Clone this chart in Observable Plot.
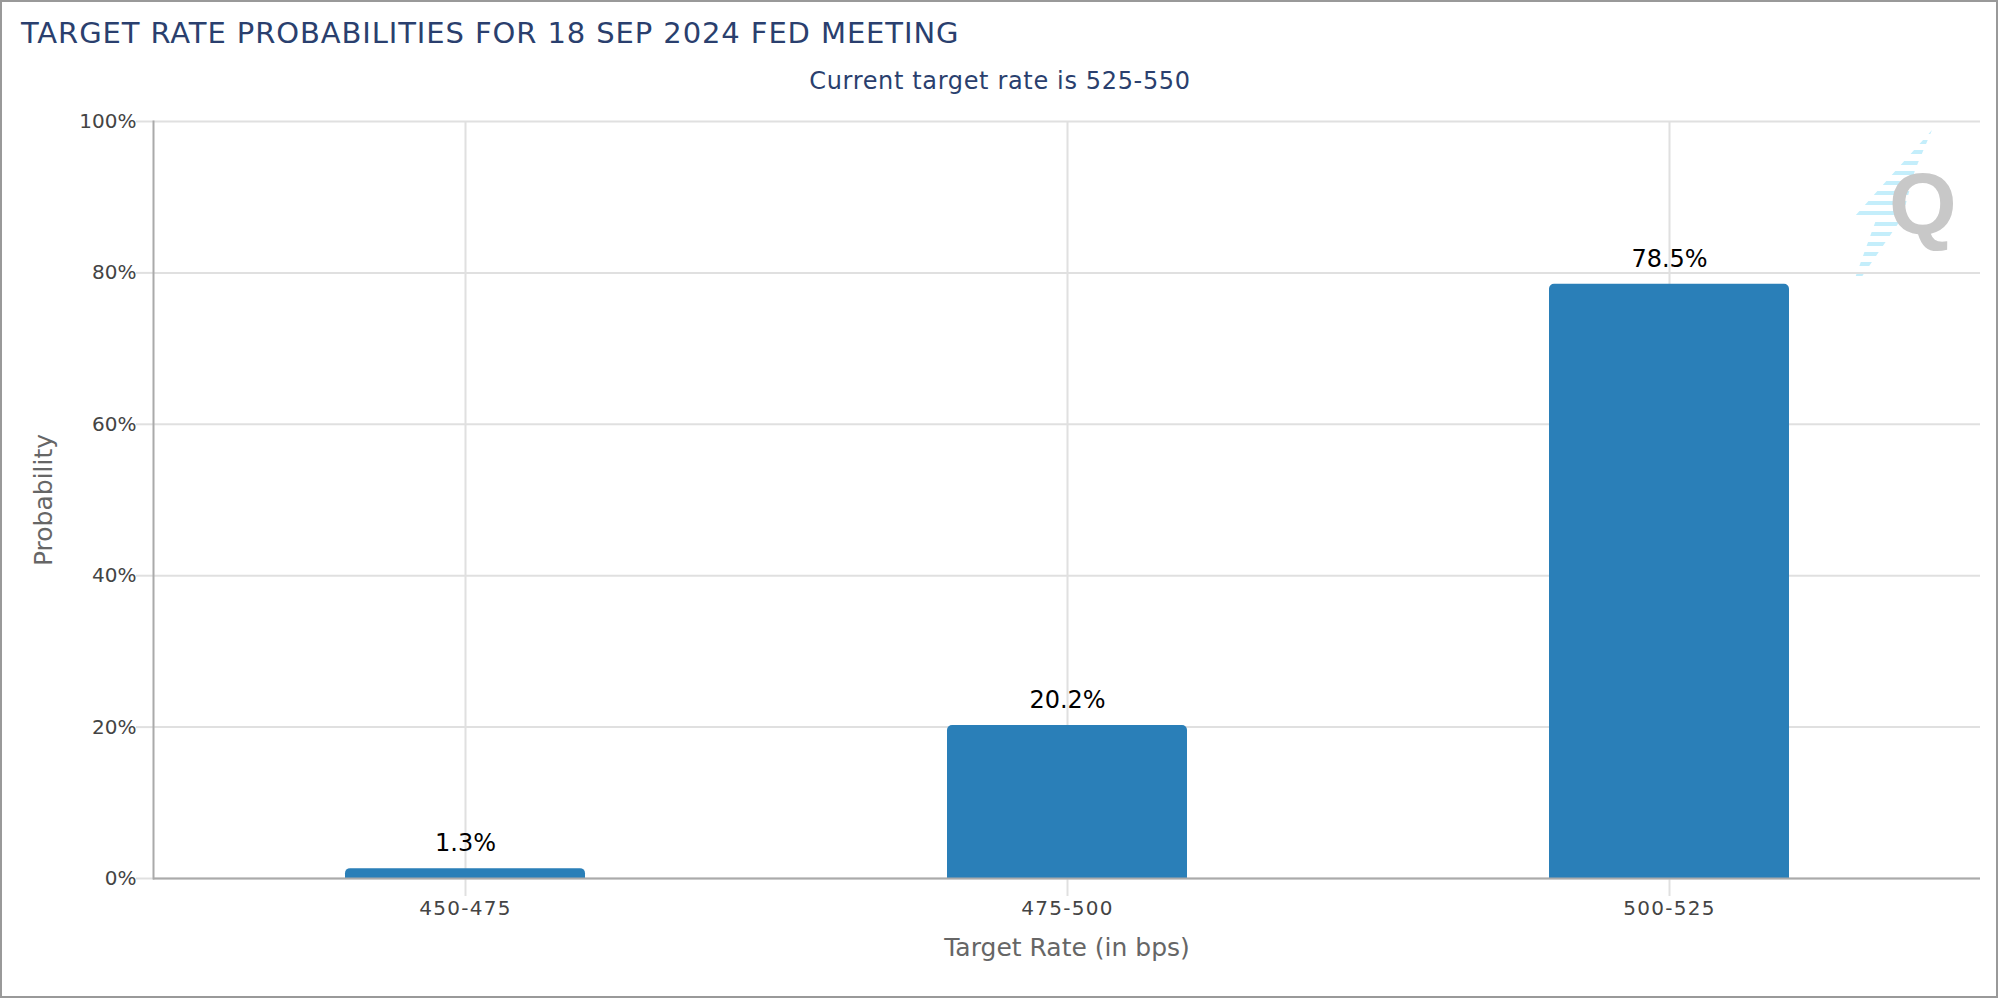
<!DOCTYPE html>
<html>
<head>
<meta charset="utf-8">
<script src="https://cdn.jsdelivr.net/npm/d3@7"></script>
<script src="https://cdn.jsdelivr.net/npm/@observablehq/plot@0.6"></script>
<style>
html,body{margin:0;padding:0;background:#fff;}
#wrap{position:relative;width:2000px;height:1000px;overflow:hidden;font-family:"DejaVu Sans",sans-serif;}
#frame{position:absolute;left:0;top:0;width:1998px;height:998px;box-sizing:border-box;border:2px solid #999;pointer-events:none;}
#title{position:absolute;left:21px;top:14px;font-size:29px;line-height:38px;color:#2a3f6e;white-space:nowrap;letter-spacing:0.9px;}
#subtitle{position:absolute;left:0;width:2000px;top:65px;text-align:center;font-size:24px;line-height:32px;color:#2a3f6e;letter-spacing:0.65px;}
#chart{position:absolute;left:0;top:106px;}
#stripes{position:absolute;left:1855px;top:130px;width:80px;height:150px;
 background:repeating-linear-gradient(to bottom,#c4eefb 0,#c4eefb 4px,transparent 4px,transparent 10.17px);
 clip-path:polygon(77px 0,0 86px,21px 90px,0 148px,6px 148px,47px 88px,60px 40px);}
#q{position:absolute;left:1889px;top:144px;font-family:"Liberation Sans",sans-serif;font-weight:700;font-size:87px;line-height:120px;color:#c8c8c8;}
#chart svg{font-family:"DejaVu Sans",sans-serif;}
#chart svg g[aria-label="x-axis tick label"]{letter-spacing:1.3px;}
</style>
</head>
<body>
<div id="wrap">
  <div id="stripes"></div>
  <div id="q">Q</div>
  <div id="title"></div>
  <div id="subtitle"></div>
  <div id="chart"></div>
  <div id="frame"></div>
</div>
<script>
const titleText = "TARGET RATE PROBABILITIES FOR 18 SEP 2024 FED MEETING";
const subtitleText = "Current target rate is 525-550";
const categories = ["450-475", "475-500", "500-525"];
const probabilities = [1.3, 20.2, 78.5];
const yTicks = [0, 20, 40, 60, 80, 100];
const xAxisLabel = "Target Rate (in bps)";
const yAxisLabel = "Probability";

document.getElementById("title").textContent = titleText;
document.getElementById("subtitle").textContent = subtitleText;

const rows = categories.map((c, i) => ({category: c, value: probabilities[i]}));
const grid = "#e0e0e0", axisCol = "#aaa", tickCol = "#444", labelCol = "#666";

const chart = Plot.plot({
  width: 2000,
  height: 894,
  marginTop: 15,
  marginBottom: 122,
  marginLeft: 153,
  marginRight: 20,
  style: {background: "transparent", overflow: "visible", fontFamily: "DejaVu Sans"},
  x: {domain: categories, paddingInner: 0.602, paddingOuter: 0.3174, label: null},
  y: {domain: [0, 100], label: null},
  marks: [
    Plot.ruleY(yTicks, {y: d => d, stroke: grid, strokeWidth: 2, strokeOpacity: 1}),
    Plot.ruleX(categories, {x: d => d, stroke: grid, strokeWidth: 2, strokeOpacity: 1}),
    Plot.axisY({
      ticks: yTicks, tickSize: 17, tickPadding: 0, stroke: grid, strokeWidth: 2, strokeOpacity: 1,
      tickFormat: d => d + "%", fontSize: 20, fill: tickCol, label: null
    }),
    Plot.axisX({tickSize: 18, tickPadding: 4, stroke: grid, strokeWidth: 2, strokeOpacity: 1, fontSize: 20, fill: tickCol, label: null}),
    Plot.barY(rows, {x: "category", y: "value", fill: "#2a7fb8", ry1: 5}),
    Plot.ruleY([0], {stroke: axisCol, strokeWidth: 2, strokeOpacity: 1}),
    Plot.frame({anchor: "left", stroke: axisCol, strokeWidth: 2, strokeOpacity: 1}),
    Plot.text(rows, {x: "category", y: "value", text: d => d.value.toFixed(1) + "%", dy: -25, fontSize: 24, fill: "#000"}),
    Plot.text([xAxisLabel], {frameAnchor: "bottom", dy: 77, fontSize: 25, fill: labelCol}),
    Plot.text([yAxisLabel], {frameAnchor: "left", textAnchor: "middle", dx: -110, rotate: -90, fontSize: 25, fill: labelCol})
  ]
});
document.getElementById("chart").appendChild(chart);
</script>
</body>
</html>
